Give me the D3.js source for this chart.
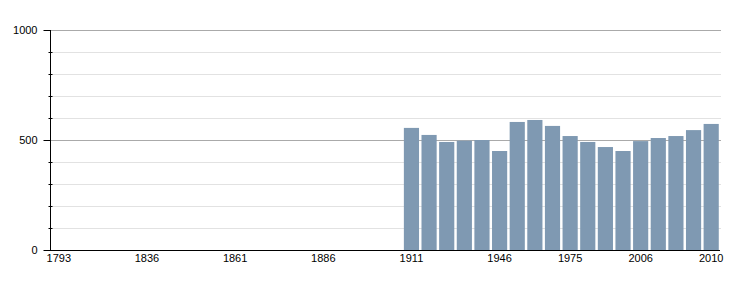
<!DOCTYPE html>
<html lang="fr">
<head>
<meta charset="utf-8">
<style>
body { margin: 0; background: #fff; }
svg text { font-family: "Liberation Sans", Arial, sans-serif; font-size: 11px; fill: #000; }
</style>
<script src="https://cdn.jsdelivr.net/npm/d3@7"></script>
</head>
<body>
<div id="chart"></div>
<script>
// every census year on the axis, even the ones with no figure
var years = [1793, 1800, 1806, 1821, 1831, 1836, 1841, 1846, 1851, 1856,
	1861, 1866, 1872, 1876, 1881, 1886, 1891, 1896, 1901, 1906,
	1911, 1921, 1926, 1931, 1936, 1946, 1954, 1962, 1968, 1975,
	1982, 1990, 1999, 2006, 2007, 2008, 2009, 2010];
var dataYears = [1911, 1921, 1926, 1931, 1936, 1946, 1954, 1962, 1968, 1975,
	1982, 1990, 1999, 2006, 2007, 2008, 2009, 2010];
var population = [555, 523, 491, 497, 500, 450, 582, 591, 564, 518,
	491, 468, 450, 495, 509, 518, 545, 573];
var xLabels = [1793, 1836, 1861, 1886, 1911, 1946, 1975, 2006, 2010];
var yLabels = [0, 500, 1000];

var width = 750, height = 300;
var margin = {top: 30, right: 30, bottom: 50, left: 50};

var svg = d3.select("#chart").append("svg")
	.attr("width", width)
	.attr("height", height);

var x = d3.scaleBand()
	.domain(years)
	.range([margin.left, width - margin.right])
	.paddingInner(0.14)
	.paddingOuter(0.07);

var y = d3.scaleLinear()
	.domain([0, 1000])
	.range([height - margin.bottom, margin.top]);

// grid, light every 100, darker on the labelled values
var minor = d3.range(100, 1001, 100);
svg.append("g").selectAll("line")
	.data(minor)
	.enter().append("line")
	.attr("x1", margin.left)
	.attr("x2", width - margin.right + 1)
	.attr("y1", function(d) { return Math.round(y(d)) + 0.5; })
	.attr("y2", function(d) { return Math.round(y(d)) + 0.5; })
	.attr("stroke", function(d) { return d % 500 == 0 ? "#aaaaaa" : "#e2e2e2"; })
	.attr("stroke-width", 1);

var data = dataYears.map(function(yr, i) { return {year: yr, value: population[i]}; });

svg.append("g").selectAll("rect")
	.data(data)
	.enter().append("rect")
	.attr("x", function(d) { return x(d.year); })
	.attr("width", x.bandwidth())
	.attr("y", function(d) { return y(d.value); })
	.attr("height", function(d) { return y(0) - y(d.value); })
	.attr("fill", "#7f99b2");

// y axis
var yAxis = svg.append("g")
	.attr("transform", "translate(" + (margin.left + 0.5) + ",0)");
yAxis.append("line")
	.attr("y1", y(1000)).attr("y2", y(0))
	.attr("stroke", "#000");
yAxis.selectAll(".minor")
	.data(minor.filter(function(d) { return d % 500 != 0; }))
	.enter().append("line")
	.attr("x1", -2).attr("x2", 2)
	.attr("y1", function(d) { return Math.round(y(d)) + 0.5; })
	.attr("y2", function(d) { return Math.round(y(d)) + 0.5; })
	.attr("stroke", "#000");
yAxis.selectAll(".major")
	.data(yLabels)
	.enter().append("line")
	.attr("x1", -7).attr("x2", 0)
	.attr("y1", function(d) { return Math.round(y(d)) + 0.5; })
	.attr("y2", function(d) { return Math.round(y(d)) + 0.5; })
	.attr("stroke", "#000");
yAxis.selectAll("text")
	.data(yLabels)
	.enter().append("text")
	.attr("x", -13)
	.attr("y", function(d) { return y(d); })
	.attr("dy", "0.35em")
	.attr("text-anchor", "end")
	.text(function(d) { return d; });

// x axis
svg.append("line")
	.attr("x1", margin.left - 6)
	.attr("x2", width - margin.right)
	.attr("y1", y(0) + 0.5)
	.attr("y2", y(0) + 0.5)
	.attr("stroke", "#000");
svg.append("g").selectAll("text")
	.data(xLabels)
	.enter().append("text")
	.attr("x", function(d) { return x(d) + x.bandwidth() / 2; })
	.attr("y", y(0) + 12)
	.attr("text-anchor", "middle")
	.text(function(d) { return d; });
</script>
</body>
</html>
